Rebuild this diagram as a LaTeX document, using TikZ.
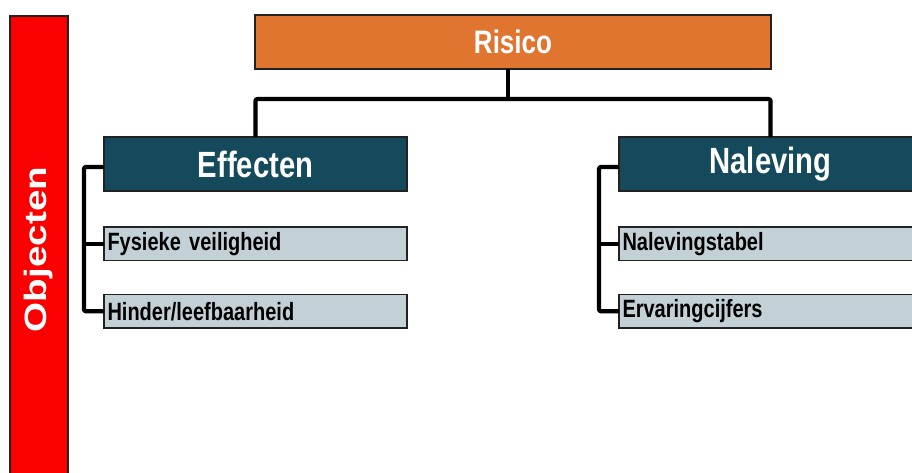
\documentclass[tikz,border=0pt]{standalone}
\usepackage{fontspec}
\setmainfont{Liberation Sans}
\newfontfamily\condfont[FakeStretch=0.8]{Liberation Sans}
\newfontfamily\subfont[FakeStretch=0.8]{Liberation Sans}
\definecolor{riskorange}{HTML}{E07530}
\definecolor{headteal}{HTML}{144A5C}
\definecolor{subgray}{HTML}{C3D1D6}
\definecolor{barred}{HTML}{FA0000}
\definecolor{edgegray}{HTML}{222222}
\tikzset{
  boxbase/.style={rectangle, draw=edgegray, line width=1.2pt, inner sep=0pt, outer sep=0pt, anchor=north west},
  topbox/.style={boxbase, fill=riskorange, text=white, minimum width=516pt, minimum height=54pt,
     font=\condfont\bfseries\fontsize{32.5}{36}\selectfont},
  headbox/.style={boxbase, fill=headteal, text=white, minimum width=303pt, minimum height=54pt,
     font=\condfont\bfseries\fontsize{36.5}{40}\selectfont},
  subbox/.style={boxbase, fill=subgray, text=black, minimum height=33.5pt, inner xsep=3.5pt,
     text width=296pt, align=left, font=\subfont\bfseries\fontsize{25}{28}\selectfont},
  conn/.style={draw=black, line width=4.3pt, line join=round, rounded corners=2pt},
}
\begin{document}
\begin{tikzpicture}[x=1pt,y=-1pt]
\useasboundingbox (0,0) rectangle (912,472);
\begin{scope}
\clip (0,0) rectangle (912,472);
\fill[white] (0,0) rectangle (912,472);
% red side bar
\node[boxbase, fill=barred, minimum width=58pt, minimum height=470pt] (bar) at (10,16) {};
\node[rotate=90, text=white, inner sep=0pt] (objecten) at (38.5,249.5)
  {\scalebox{1}[0.8]{\bfseries\fontsize{38.6}{42}\selectfont Objecten}};
% top
\node[topbox] (risico) at (255,15) {Risico};
% heads
\node[headbox] (effecten) at (104,137) {Effecten};
\node[headbox] (naleving) at (619,137) {Naleving};
% subs
\node[subbox] (fysiek) at (104,227) {Fysieke veiligheid};
\node[subbox] (hinder) at (104,294.5) {Hinder/leefbaarheid};
\node[subbox] (naltab) at (619,227) {Nalevingstabel};
\node[subbox] (ervar) at (619,294.5) {Ervaringcijfers};
% connectors
\coordinate (split) at (508,99);
\draw[conn] (risico.south -| split) -- (split);
\draw[conn] (split) -| (effecten.north);
\draw[conn] (split) -| (naleving.north);
\draw[conn] ([yshift=-3pt]effecten.west) -- ++(-20,0) |- (hinder.west);
\draw[conn] (fysiek.west) -- ++(-20.5,0);
\draw[conn] ([yshift=-3pt]naleving.west) -- ++(-20,0) |- (ervar.west);
\draw[conn] (naltab.west) -- ++(-20.5,0);
\end{scope}
\end{tikzpicture}
\end{document}
